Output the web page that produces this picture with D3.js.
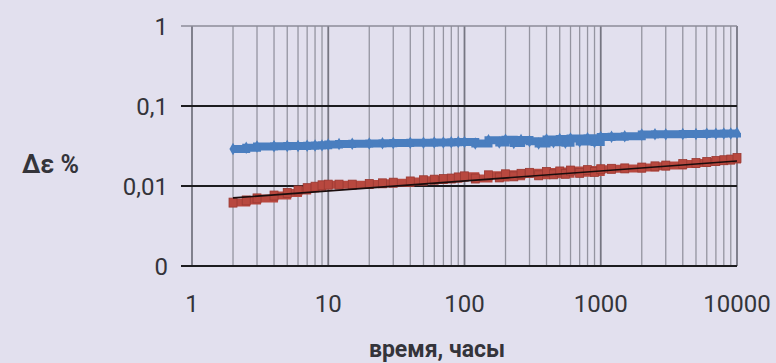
<!DOCTYPE html>
<html>
<head>
<meta charset="utf-8">
<script src="https://d3js.org/d3.v7.min.js"></script>
<title>Δε от времени</title>
<style>
body { margin: 0; background: #e2e0ee; }
svg { display: block; }
text { font-family: Roboto, "Open Sans", sans-serif; fill: #34343a; }
</style>
</head>
<body>
<svg width="776" height="363"></svg>
<script>

// время, часы
let hours = [2, 2.5, 3, 4, 5, 6, 7, 8, 9, 10, 12, 15, 20, 25, 30, 40, 50, 60, 70, 80, 90,
  100, 120, 150, 180, 200, 230, 260, 300, 350, 400, 450, 500, 550, 600, 700, 800, 900,
  1000, 1200, 1500, 2000, 2500, 3000, 4000, 5000, 6000, 7000, 8000, 9000, 10000];

let blueSeries = [0.0290, 0.0300, 0.0312, 0.0314, 0.0316, 0.0316, 0.0318, 0.0320, 0.0322, 0.0330,
  0.0336, 0.0338, 0.0340, 0.0342, 0.0344, 0.0346, 0.0348, 0.0350, 0.0350, 0.0352, 0.0354,
  0.0356, 0.0340, 0.0372, 0.0350, 0.0378, 0.0344, 0.0376, 0.0362, 0.0340, 0.0380, 0.0352,
  0.0386, 0.0348, 0.0392, 0.0360, 0.0396, 0.0356,
  0.0410, 0.0414, 0.0418, 0.0440, 0.0442, 0.0444, 0.0446, 0.0448, 0.0450, 0.0450, 0.0452, 0.0454, 0.0460];

let redSeries = [0.0062, 0.0066, 0.0070, 0.0076, 0.0082, 0.0088, 0.0094, 0.0098, 0.0102, 0.0104,
  0.0104, 0.0104, 0.0106, 0.0108, 0.0110, 0.0114, 0.0118, 0.0120, 0.0122, 0.0124, 0.0128,
  0.0132, 0.0124, 0.0136, 0.0128, 0.0140, 0.0132, 0.0142, 0.0146, 0.0136, 0.0150, 0.0140,
  0.0152, 0.0142, 0.0156, 0.0146, 0.0158, 0.0150,
  0.0162, 0.0164, 0.0166, 0.0170, 0.0176, 0.0180, 0.0188, 0.0194, 0.0200, 0.0206, 0.0210, 0.0214, 0.0224];

// линия тренда (степенная) для красной серии
let trendHours = [2, 10000];
let trendValues = [0.0071, 0.0205];

let xTicks = [1, 10, 100, 1000, 10000];
let xTickLabels = ["1", "10", "100", "1000", "10000"];
let yTicks = [0.001, 0.01, 0.1, 1];
let yTickLabels = ["0", "0,01", "0,1", "1"];

let svg = d3.select("svg");
let plotLeft = 192, plotRight = 737, plotTop = 26, plotBottom = 266;

let x = d3.scaleLog().domain([1, 10000]).range([plotLeft, plotRight]);
let y = d3.scaleLog().domain([0.001, 1]).range([plotBottom, plotTop]);

// вертикальная сетка
let minor = [];
for (let d = 1; d < 10000; d *= 10) {
  for (let k = 1; k < 10; k++) minor.push(d * k);
}
minor.push(10000);
svg.append("g").selectAll("line").data(minor).enter().append("line")
  .attr("x1", d => x(d)).attr("x2", d => x(d))
  .attr("y1", plotTop).attr("y2", plotBottom)
  .attr("stroke", d => xTicks.indexOf(d) >= 0 ? "#767682" : "#9494a0")
  .attr("stroke-width", d => xTicks.indexOf(d) >= 0 ? 1.8 : 1.3);

// горизонтальная сетка
svg.append("g").selectAll("line").data(yTicks).enter().append("line")
  .attr("x1", plotLeft - 11).attr("x2", plotRight)
  .attr("y1", d => y(d)).attr("y2", d => y(d))
  .attr("stroke", d => d == 1 ? "#8c8c98" : "#1c1c1f")
  .attr("stroke-width", d => d == 1 ? 1.6 : 1.8);

// подписи осей
svg.append("g").selectAll("text").data(yTicks).enter().append("text")
  .attr("x", 168).attr("y", d => y(d) + 9)
  .attr("text-anchor", "end")
  .attr("font-size", 24)
  .text((d, i) => yTickLabels[i]);

svg.append("g").selectAll("text").data(xTicks).enter().append("text")
  .attr("x", d => x(d)).attr("y", 312)
  .attr("text-anchor", "middle")
  .attr("font-size", 24)
  .text((d, i) => xTickLabels[i]);

svg.append("text").attr("x", 22).attr("y", 173)
  .attr("font-size", 25).attr("font-weight", "bold").text("Δε %");
svg.append("text").attr("x", 437).attr("y", 357)
  .attr("text-anchor", "middle")
  .attr("font-size", 23).attr("font-weight", "bold").text("время, часы");

// серии
let blueData = hours.map((h, i) => [h, blueSeries[i]]);
let redData = hours.map((h, i) => [h, redSeries[i]]);
let trendData = trendHours.map((h, i) => [h, trendValues[i]]);

let line = d3.line().x(d => x(d[0])).y(d => y(d[1])).curve(d3.curveStepAfter);

svg.append("path").datum(redData).attr("d", line)
  .attr("fill", "none").attr("stroke", "#b8483f").attr("stroke-width", 8);
svg.append("g").selectAll("rect").data(redData).enter().append("rect")
  .attr("x", d => x(d[0]) - 4).attr("y", d => y(d[1]) - 4.5)
  .attr("width", 8).attr("height", 9)
  .attr("fill", "#b8483f").attr("stroke", "#9a3a33").attr("stroke-width", 0.8);

svg.append("path").datum(trendData)
  .attr("d", d3.line().x(d => x(d[0])).y(d => y(d[1])))
  .attr("fill", "none").attr("stroke", "#1a0d0d").attr("stroke-width", 1.6);

svg.append("path").datum(blueData).attr("d", line)
  .attr("fill", "none").attr("stroke", "#4a7ebf").attr("stroke-width", 8);
svg.append("g").selectAll("path.m").data(blueData).enter().append("path")
  .attr("class", "m")
  .attr("transform", d => "translate(" + x(d[0]) + "," + y(d[1]) + ")")
  .attr("d", d3.symbol().type(d3.symbolDiamond).size(45))
  .attr("fill", "#4a7ebf");

</script>
</body>
</html>
